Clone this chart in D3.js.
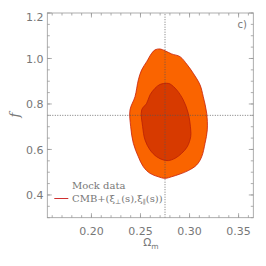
<!DOCTYPE html>
<html>
<head>
<meta charset="utf-8">
<script src="https://cdnjs.cloudflare.com/ajax/libs/d3/7.8.5/d3.min.js"></script>
<style>
body{margin:0;background:#fff}
text{fill:#777}
</style>
</head>
<body>
<svg id="vis" width="266" height="266" font-family="DejaVu Sans, sans-serif"></svg>
<script>
// contour outlines, [Omega_m, f]
var outer = [[0.2699,1.042],[0.2750,1.034],[0.2818,1.020],[0.2903,1.008],[0.2977,0.972],[0.3038,0.935],
    [0.3107,0.884],[0.3140,0.832],[0.3175,0.759],[0.3181,0.686],[0.3158,0.627],[0.3124,0.568],
    [0.3073,0.532],[0.2987,0.507],[0.2903,0.492],[0.2818,0.480],[0.2750,0.473],[0.2681,0.480],
    [0.2597,0.495],[0.2529,0.524],[0.2478,0.568],[0.2427,0.627],[0.2400,0.700],[0.2393,0.774],
    [0.2444,0.832],[0.2478,0.906],[0.2512,0.950],[0.2563,0.986],[0.2614,1.023],[0.2648,1.038]]
var inner = [[0.2767,0.891],[0.2801,0.888],[0.2869,0.862],[0.2936,0.818],[0.2987,0.759],[0.3012,0.686],
    [0.3012,0.656],[0.2977,0.612],[0.2920,0.583],[0.2852,0.561],[0.2783,0.551],[0.2732,0.554],
    [0.2665,0.568],[0.2597,0.598],[0.2546,0.642],[0.2522,0.700],[0.2512,0.774],[0.2563,0.803],
    [0.2597,0.840],[0.2648,0.869],[0.2699,0.886]]
var fiducial = [0.275,0.75]
var xTicks = [0.20,0.25,0.30,0.35]
var yTicks = [0.4,0.6,0.8,1.0,1.2]

var svg = d3.select("#vis")
var x = d3.scaleLinear().domain([0.155,0.365]).range([47.3,253.3])
var y = d3.scaleLinear().domain([0.3,1.2]).range([217.7,13])

var line = d3.line().x(function(d){return x(d[0])}).y(function(d){return y(d[1])})
    .curve(d3.curveCatmullRomClosed)

svg.append("path").attr("d",line(outer)).attr("fill","#fa6400").attr("stroke","#c8200a").attr("stroke-width",0.8)
svg.append("path").attr("d",line(inner)).attr("fill","#d73a00").attr("stroke","#b82008").attr("stroke-width",0.8)

// fiducial dotted lines
svg.append("line").attr("x1",x(fiducial[0])).attr("x2",x(fiducial[0])).attr("y1",y.range()[0]).attr("y2",y.range()[1])
    .attr("stroke","#555").attr("stroke-dasharray","1,1.5").attr("stroke-width",0.8)
svg.append("line").attr("y1",y(fiducial[1])).attr("y2",y(fiducial[1])).attr("x1",x.range()[0]).attr("x2",x.range()[1])
    .attr("stroke","#555").attr("stroke-dasharray","1,1.5").attr("stroke-width",0.8)

// frame
svg.append("rect").attr("x",x.range()[0]).attr("y",y.range()[1])
    .attr("width",x.range()[1]-x.range()[0]).attr("height",y.range()[0]-y.range()[1])
    .attr("fill","none").attr("stroke","#999").attr("stroke-width",0.8)

function tickLines(axis,vals,len){
    vals.forEach(function(v){
        if(axis=="x"){
            var px = x(v)
            svg.append("line").attr("x1",px).attr("x2",px).attr("y1",y.range()[0]).attr("y2",y.range()[0]-len).attr("stroke","#999").attr("stroke-width",0.8)
            svg.append("line").attr("x1",px).attr("x2",px).attr("y1",y.range()[1]).attr("y2",y.range()[1]+len).attr("stroke","#999").attr("stroke-width",0.8)
        }else{
            var py = y(v)
            svg.append("line").attr("y1",py).attr("y2",py).attr("x1",x.range()[0]).attr("x2",x.range()[0]+len).attr("stroke","#999").attr("stroke-width",0.8)
            svg.append("line").attr("y1",py).attr("y2",py).attr("x1",x.range()[1]).attr("x2",x.range()[1]-len).attr("stroke","#999").attr("stroke-width",0.8)
        }
    })
}
tickLines("x",d3.range(16,37).map(function(d){return d/100}),2.5)
tickLines("x",xTicks,4.5)
tickLines("y",d3.range(6,25).map(function(d){return d/20}),2.5)
tickLines("y",yTicks,4.5)

svg.selectAll(".xl").data(xTicks).enter().append("text")
    .attr("x",function(d){return x(d)}).attr("y",234.5)
    .attr("text-anchor","middle").attr("font-size",11)
    .text(function(d){return d.toFixed(2)})
svg.selectAll(".yl").data(yTicks).enter().append("text")
    .attr("x",43.5).attr("y",function(d){return y(d)+ (d==1.2?8:4.5)})
    .attr("text-anchor","end").attr("font-size",11)
    .text(function(d){return d.toFixed(1)})

svg.append("text").attr("x",151).attr("y",246).attr("text-anchor","middle").attr("font-size",10.5)
    .html('Ω<tspan font-size="7.5" dy="3">m</tspan>')
svg.append("text").attr("transform","translate(19,115) rotate(-90)").attr("text-anchor","middle")
    .attr("font-size",13).attr("font-style","italic").attr("font-family","DejaVu Serif").text("f")
svg.append("text").attr("x",247).attr("y",27.5).attr("text-anchor","end").attr("font-size",10).text("c)")

// legend
svg.append("text").attr("x",72).attr("y",189).attr("font-size",10).attr("font-family","DejaVu Serif").text("Mock data")
svg.append("line").attr("x1",54.3).attr("x2",68.3).attr("y1",198.5).attr("y2",198.5).attr("stroke","#d03030").attr("stroke-width",1)
svg.append("text").attr("x",72).attr("y",202).attr("font-size",10).attr("font-family","DejaVu Serif")
    .html('CMB+(ξ<tspan font-size="6.5" dy="2">⊥</tspan><tspan dy="-2">(s),ξ</tspan><tspan font-size="6.5" dy="2">∥</tspan><tspan dy="-2">(s))</tspan>')
</script>
</body>
</html>
